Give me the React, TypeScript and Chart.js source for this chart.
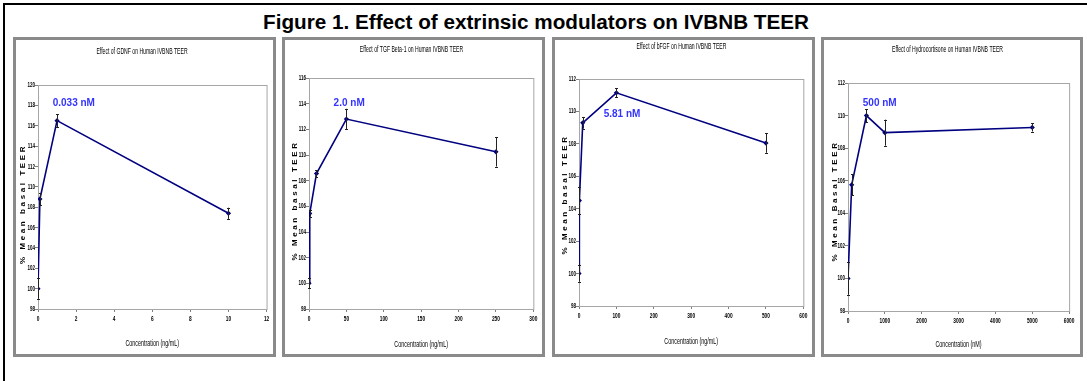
import React, { useEffect, useRef } from "react";
import { Chart, registerables } from "chart.js";
Chart.register(...registerables);

// ---------- data ----------
const figureTitle = "Figure 1. Effect of extrinsic modulators on IVBNB TEER";

const gdnfTitle = "Effect of GDNF on Human IVBNB TEER";
const gdnfConc = [0, 0.1, 1, 10];
const gdnfTeer = [100, 108.8, 116.5, 107.4];
const gdnfErr = [1.0, 0.6, 0.65, 0.55];
const gdnfLabel = "0.033 nM";

const tgfTitle = "Effect of TGF Beta-1 on Human IVBNB TEER";
const tgfConc = [0, 1, 10, 50, 250];
const tgfTeer = [100, 105.45, 108.55, 112.8, 110.25];
const tgfErr = [0.4, 0.25, 0.25, 0.8, 1.15];
const tgfLabel = "2.0 nM";

const bfgfTitle = "Effect of bFGF on Human IVBNB TEER";
const bfgfConc = [0, 1, 10, 100, 500];
const bfgfTeer = [100, 104.5, 109.3, 111.15, 108.05];
const bfgfErr = [0.5, 0.82, 0.36, 0.28, 0.6];
const bfgfLabel = "5.81 nM";

const hcTitle = "Effect of Hydrocortisone on Human IVBNB TEER";
const hcConc = [0, 100, 500, 1000, 5000];
const hcTeer = [100, 105.75, 110.0, 108.95, 109.27];
const hcErr = [1.0, 0.65, 0.4, 0.8, 0.25];
const hcLabel = "500 nM";

const xTitleNg = "Concentration (ng/mL)";
const xTitleNm = "Concentration (nM)";
const yTitleLower = "% Mean basal TEER";
const yTitleUpper = "% Mean Basal TEER";

const SANS = "'Liberation Sans', Arial, sans-serif";
const NAVY = "#000080";
const SQUASH = 0.6; // the small chart texts are a narrow face

type PanelCfg = {
  title: string; xTitle: string; yTitle: string;
  xs: number[]; ys: number[]; err: number[];
  xMax: number; xStep: number; yMin: number; yMax: number;
  label: string; labelAt: [number, number];
  // layout
  left: number; width: number;
  plotL: number; plotR: number; plotT: number; plotB: number;
  titleY: number; xTitleY: number; yTitleX: number; yTitleDy: number;
};

const panels: PanelCfg[] = [
  {
    title: gdnfTitle, xTitle: xTitleNg, yTitle: yTitleLower,
    xs: gdnfConc, ys: gdnfTeer, err: gdnfErr,
    xMax: 12, xStep: 2, yMin: 98, yMax: 120,
    label: gdnfLabel, labelAt: [1.88, 118.2],
    left: 13, width: 263, plotL: 22, plotR: 252, plotT: 45, plotB: 269,
    titleY: 12, xTitleY: 304, yTitleX: 7, yTitleDy: 7,
  },
  {
    title: tgfTitle, xTitle: xTitleNg, yTitle: yTitleLower,
    xs: tgfConc, ys: tgfTeer, err: tgfErr,
    xMax: 300, xStep: 50, yMin: 98, yMax: 116,
    label: tgfLabel, labelAt: [53.7, 114.05],
    left: 282, width: 263, plotL: 24, plotR: 253, plotT: 38, plotB: 269,
    titleY: 10, xTitleY: 305, yTitleX: 10, yTitleDy: 7,
  },
  {
    title: bfgfTitle, xTitle: xTitleNg, yTitle: yTitleLower,
    xs: bfgfConc, ys: bfgfTeer, err: bfgfErr,
    xMax: 600, xStep: 100, yMin: 98, yMax: 112,
    label: bfgfLabel, labelAt: [115, 109.8],
    left: 552, width: 263, plotL: 24, plotR: 253, plotT: 39, plotB: 266,
    titleY: 7, xTitleY: 302, yTitleX: 10, yTitleDy: 2,
  },
  {
    title: hcTitle, xTitle: xTitleNm, yTitle: yTitleUpper,
    xs: hcConc, ys: hcTeer, err: hcErr,
    xMax: 6000, xStep: 1000, yMin: 98, yMax: 112,
    label: hcLabel, labelAt: [861, 110.77],
    left: 821, width: 262, plotL: 24, plotR: 247, plotT: 43, plotB: 271,
    titleY: 10, xTitleY: 305, yTitleX: 11, yTitleDy: 4,
  },
];

const PANEL_TOP = 37;
const PANEL_H = 320;
const BORDER = 3;

function Panel({ cfg }: { cfg: PanelCfg }) {
  const ref = useRef<HTMLCanvasElement | null>(null);
  const cw = cfg.width - BORDER * 2;
  const ch = PANEL_H - BORDER * 2;

  useEffect(() => {
    const canvas = ref.current;
    if (!canvas) return;
    const ctx = canvas.getContext("2d") as any;
    // draw the library's text with a narrow (horizontally condensed) face
    const origFill = ctx.fillText.bind(ctx);
    ctx.__squash = SQUASH;
    ctx.fillText = (text: string, x: number, y: number, maxWidth?: number) => {
      const s = ctx.__squash;
      if (s === 1) {
        if (maxWidth === undefined) origFill(text, x, y);
        else origFill(text, x, y, maxWidth);
        return;
      }
      ctx.save();
      ctx.translate(x, y);
      ctx.scale(s, 1);
      if (maxWidth === undefined) origFill(text, 0, 0);
      else origFill(text, 0, 0, maxWidth / s);
      ctx.restore();
    };

    const titleLH = 8.5 * 1.2;
    const xTitleLH = 9 * 1.2;

    const framePlugin = {
      id: "frame",
      beforeDatasetsDraw(chart: any) {
        const { ctx: c, chartArea: a } = chart;
        c.save();
        c.strokeStyle = "#a6a6a6";
        c.lineWidth = 1;
        c.strokeRect(a.left + 0.5, a.top + 0.5, a.right - a.left, a.bottom - a.top);
        c.restore();
      },
    };

    const errPlugin = {
      id: "errbars",
      afterDatasetsDraw(chart: any) {
        const { ctx: c, scales } = chart;
        c.save();
        c.strokeStyle = "#222";
        c.lineWidth = 1;
        cfg.xs.forEach((xv, i) => {
          const px = Math.round(scales.x.getPixelForValue(xv)) + 0.5;
          const top = scales.y.getPixelForValue(cfg.ys[i] + cfg.err[i]);
          const bot = scales.y.getPixelForValue(cfg.ys[i] - cfg.err[i]);
          c.beginPath();
          c.moveTo(px, top);
          c.lineTo(px, bot);
          c.moveTo(px - 1.5, Math.round(top) + 0.5);
          c.lineTo(px + 1.5, Math.round(top) + 0.5);
          c.moveTo(px - 1.5, Math.round(bot) + 0.5);
          c.lineTo(px + 1.5, Math.round(bot) + 0.5);
          c.stroke();
        });
        c.restore();
      },
    };

    const textPlugin = {
      id: "texts",
      afterDraw(chart: any) {
        const { ctx: c, chartArea: a, scales } = chart;
        c.__squash = 1;
        c.save();
        // y axis title with letter spacing
        c.translate(cfg.yTitleX, (a.top + a.bottom) / 2 + cfg.yTitleDy);
        c.rotate(-Math.PI / 2);
        c.font = "bold 8px Arial, 'Liberation Sans', sans-serif";
        c.letterSpacing = "2.6px";
        c.fillStyle = "#000";
        c.textAlign = "center";
        c.textBaseline = "middle";
        c.fillText(cfg.yTitle, 0, 0);
        c.restore();

        c.save();
        c.letterSpacing = "0px";
        c.font = "bold 10px Arial, 'Liberation Sans', sans-serif";
        c.fillStyle = "#3333ff";
        c.textAlign = "center";
        c.textBaseline = "middle";
        c.fillText(cfg.label, scales.x.getPixelForValue(cfg.labelAt[0]), scales.y.getPixelForValue(cfg.labelAt[1]));
        c.restore();
        c.__squash = SQUASH;
      },
    };

    const chart = new Chart(canvas, {
      type: "scatter",
      data: {
        datasets: [
          {
            data: cfg.xs.map((x, i) => ({ x, y: cfg.ys[i] })),
            showLine: true,
            borderColor: NAVY,
            backgroundColor: NAVY,
            borderWidth: 1.6,
            pointStyle: "rectRot",
            pointRadius: 2.6,
            pointBorderWidth: 0,
            pointBackgroundColor: NAVY,
          },
        ],
      },
      options: {
        animation: false,
        responsive: false,
        devicePixelRatio: 1,
        layout: { padding: { left: 0, top: 0, bottom: 0, right: cw - cfg.plotR } },
        plugins: {
          legend: { display: false },
          tooltip: { enabled: false },
          title: {
            display: true,
            text: cfg.title,
            color: "#000",
            font: { family: SANS, size: 8.5, weight: "normal", lineHeight: 1.2 },
            padding: { top: cfg.titleY - titleLH / 2, bottom: cfg.plotT - (cfg.titleY - titleLH / 2) - titleLH },
          },
        },
        scales: {
          x: {
            type: "linear",
            min: 0,
            max: cfg.xMax,
            afterFit: (s: any) => { s.height = ch - cfg.plotB; },
            ticks: {
              stepSize: cfg.xStep,
              autoSkip: false,
              maxRotation: 0,
              color: "#000",
              padding: 2,
              font: { family: SANS, size: 8, weight: "bold" },
              callback: (v: any) => String(v),
            },
            grid: { drawOnChartArea: false, drawTicks: true, tickLength: 3, color: "#808080" },
            border: { color: "#808080" },
            title: {
              display: true,
              text: cfg.xTitle,
              color: "#000",
              font: { family: SANS, size: 9, lineHeight: 1.2 },
              padding: { top: 0, bottom: ch - cfg.xTitleY - xTitleLH / 2 },
            },
          },
          y: {
            type: "linear",
            min: cfg.yMin,
            max: cfg.yMax,
            afterFit: (s: any) => { s.width = cfg.plotL; },
            ticks: {
              stepSize: 2,
              color: "#000",
              padding: 0,
              font: { family: SANS, size: 7.5, weight: "bold" },
              callback: (v: any) => String(v),
            },
            grid: { drawOnChartArea: false, drawTicks: true, tickLength: 3, color: "#808080" },
            border: { color: "#808080" },
          },
        },
      } as any,
      plugins: [framePlugin, errPlugin, textPlugin],
    });
    return () => chart.destroy();
  }, [cfg]);

  return (
    <div
      style={{
        position: "absolute",
        left: cfg.left,
        top: PANEL_TOP,
        width: cfg.width - BORDER * 2,
        height: PANEL_H - BORDER * 2,
        border: `${BORDER}px solid #8a8a8a`,
        background: "#fff",
      }}
    >
      <canvas ref={ref} width={cw} height={ch} style={{ display: "block", width: cw, height: ch }} />
    </div>
  );
}

export default function App() {
  return (
    <div
      style={{
        position: "absolute",
        left: 0,
        top: 0,
        width: 1087,
        height: 381,
        overflow: "hidden",
        background: "#fff",
        fontFamily: "Arial, 'Liberation Sans', sans-serif",
      }}
    >
      <div
        style={{
          position: "absolute",
          left: 3,
          top: 3,
          width: 1200,
          height: 500,
          borderTop: "2px solid #000",
          borderLeft: "2px solid #000",
        }}
      />
      <div
        style={{
          position: "absolute",
          left: 0,
          top: 10,
          width: 1072,
          textAlign: "center",
          fontWeight: "bold",
          fontSize: 20.7,
          lineHeight: "24px",
          color: "#000",
          whiteSpace: "nowrap",
        }}
      >
        {figureTitle}
      </div>
      {panels.map((p, i) => (
        <Panel key={i} cfg={p} />
      ))}
    </div>
  );
}
